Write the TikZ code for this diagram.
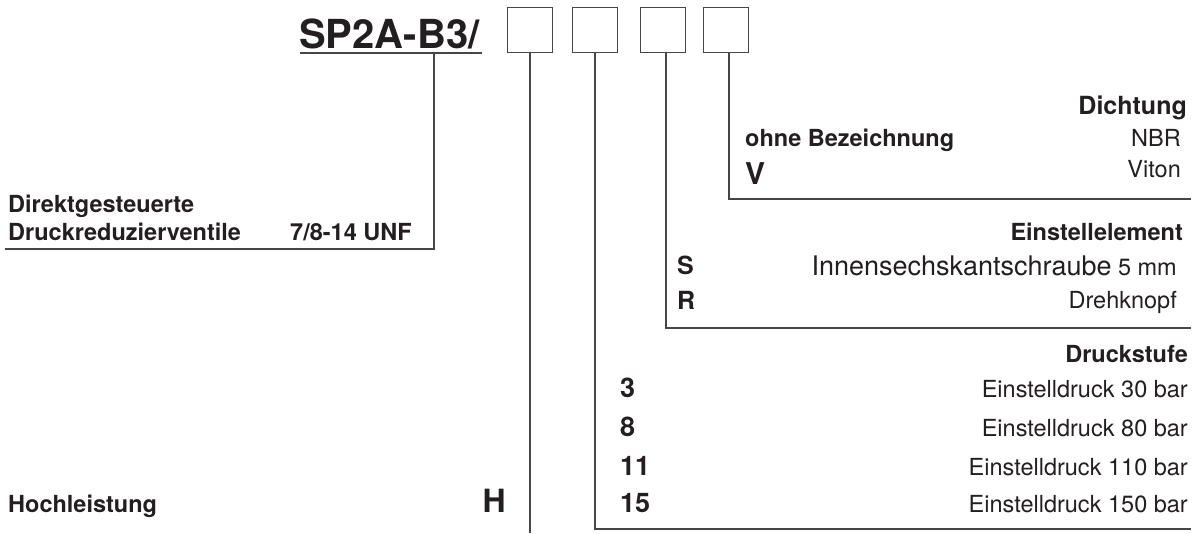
\documentclass[tikz,border=0pt]{standalone}
\usepackage{fontspec}
\setmainfont{TeX Gyre Heros}
\usepackage{xcolor}
\definecolor{codeink}{RGB}{35,31,32}
\definecolor{codeline}{RGB}{70,70,70}
\usetikzlibrary{positioning}

\newcommand{\basesize}{\fontsize{23.5}{28}\selectfont}
\newcommand{\keysize}{\fontsize{27}{32}\selectfont}

\tikzset{
  codebox/.style={draw=codeline, line width=1.4pt, minimum width=45pt, minimum height=45pt, inner sep=0pt},
  lead/.style={draw=codeline, line width=1.4pt},
  head/.style={inner sep=0pt, text=codeink, font=\basesize\bfseries},
  plain/.style={inner sep=0pt, text=codeink, font=\basesize},
  key/.style={inner sep=0pt, text=codeink, font=\keysize\bfseries}
}

\begin{document}
\begin{tikzpicture}[x=1pt, y=-1pt]
    \useasboundingbox (0,0) rectangle (1199,533);

    % Type code and the four option boxes
    \node[inner sep=0pt, text=codeink, font=\fontsize{40}{46}\selectfont\bfseries, anchor=base west] (sptype) at (299,48) {SP2A-B3/};
    \coordinate (ulstart) at (300,53);
    \coordinate (ulend) at (482,53);
    \draw[lead] (ulstart) -- (ulend);
    \node[codebox] (box1) at (530,30) {};
    \node[codebox] (box2) at (595,30) {};
    \node[codebox] (box3) at (663,30) {};
    \node[codebox] (box4) at (726,30) {};

    % Type description
    \coordinate (typetop) at (434,53);
    \coordinate (typeend) at (5,249);
    \draw[lead] (typetop) |- (typeend);
    \node[head, anchor=base west] (direkt) at (8,212) {Direktgesteuerte};
    \node[head, anchor=base west] (valve) at (8,240) {Druckreduzierventile};
    \node[head, anchor=base west] (thread) at (290,240) {7/8-14 UNF};

    % Dichtung
    \coordinate (sealend) at (1191,199);
    \draw[lead] ([xshift=3pt]box4.south) |- (sealend);
    \node[head, font=\fontsize{25}{30}\selectfont\bfseries, anchor=base east] (sealhead) at (1187,114) {Dichtung};
    \node[head, anchor=base west] (sealnone) at (745,146) {ohne Bezeichnung};
    \node[plain, anchor=base east] (nbr) at (1181,146) {NBR};
    \node[key, font=\fontsize{30}{36}\selectfont\bfseries, anchor=base west] (keyv) at (745,184) {V};
    \node[plain, anchor=base east] (viton) at (1181,177) {Viton};

    % Einstellelement
    \coordinate (adjend) at (1191,328);
    \draw[lead] ([xshift=3pt]box3.south) |- (adjend);
    \node[head, anchor=base east] (adjhead) at (1183,240) {Einstellelement};
    \node[key, font=\fontsize{25}{30}\selectfont\bfseries, anchor=base west] (keys) at (677,274) {S};
    \node[plain, anchor=base east] (screw) at (1177,275) {{\fontsize{27}{32}\selectfont Innensechskantschraube} 5 mm};
    \node[key, font=\fontsize{25}{30}\selectfont\bfseries, anchor=base west] (keyr) at (677,309) {R};
    \node[plain, anchor=base east] (knob) at (1177,308) {Drehknopf};

    % Druckstufe
    \coordinate (pressend) at (1191,529);
    \draw[lead] (box2.south) |- (pressend);
    \node[head, anchor=base east] (presshead) at (1188,362) {Druckstufe};
    \node[key, anchor=base west] (key3) at (620,397) {3};
    \node[plain, anchor=base east] (p3) at (1188,397) {Einstelldruck 30 bar};
    \node[key, anchor=base west] (key8) at (620,436) {8};
    \node[plain, anchor=base east] (p8) at (1188,436) {Einstelldruck 80 bar};
    \node[key, anchor=base west] (key11) at (620,475) {11};
    \node[plain, anchor=base east] (p11) at (1188,475) {Einstelldruck 110 bar};
    \node[key, anchor=base west] (key15) at (620,512) {15};
    \node[plain, anchor=base east] (p15) at (1188,512) {Einstelldruck 150 bar};

    % Hochleistung
    \coordinate (powerend) at (530,533);
    \draw[lead] (box1.south) -- (powerend);
    \node[head, anchor=base west] (power) at (8,512) {Hochleistung};
    \node[key, font=\fontsize{32}{38}\selectfont\bfseries, anchor=base east] (keyh) at (506,512) {H};
\end{tikzpicture}
\end{document}
